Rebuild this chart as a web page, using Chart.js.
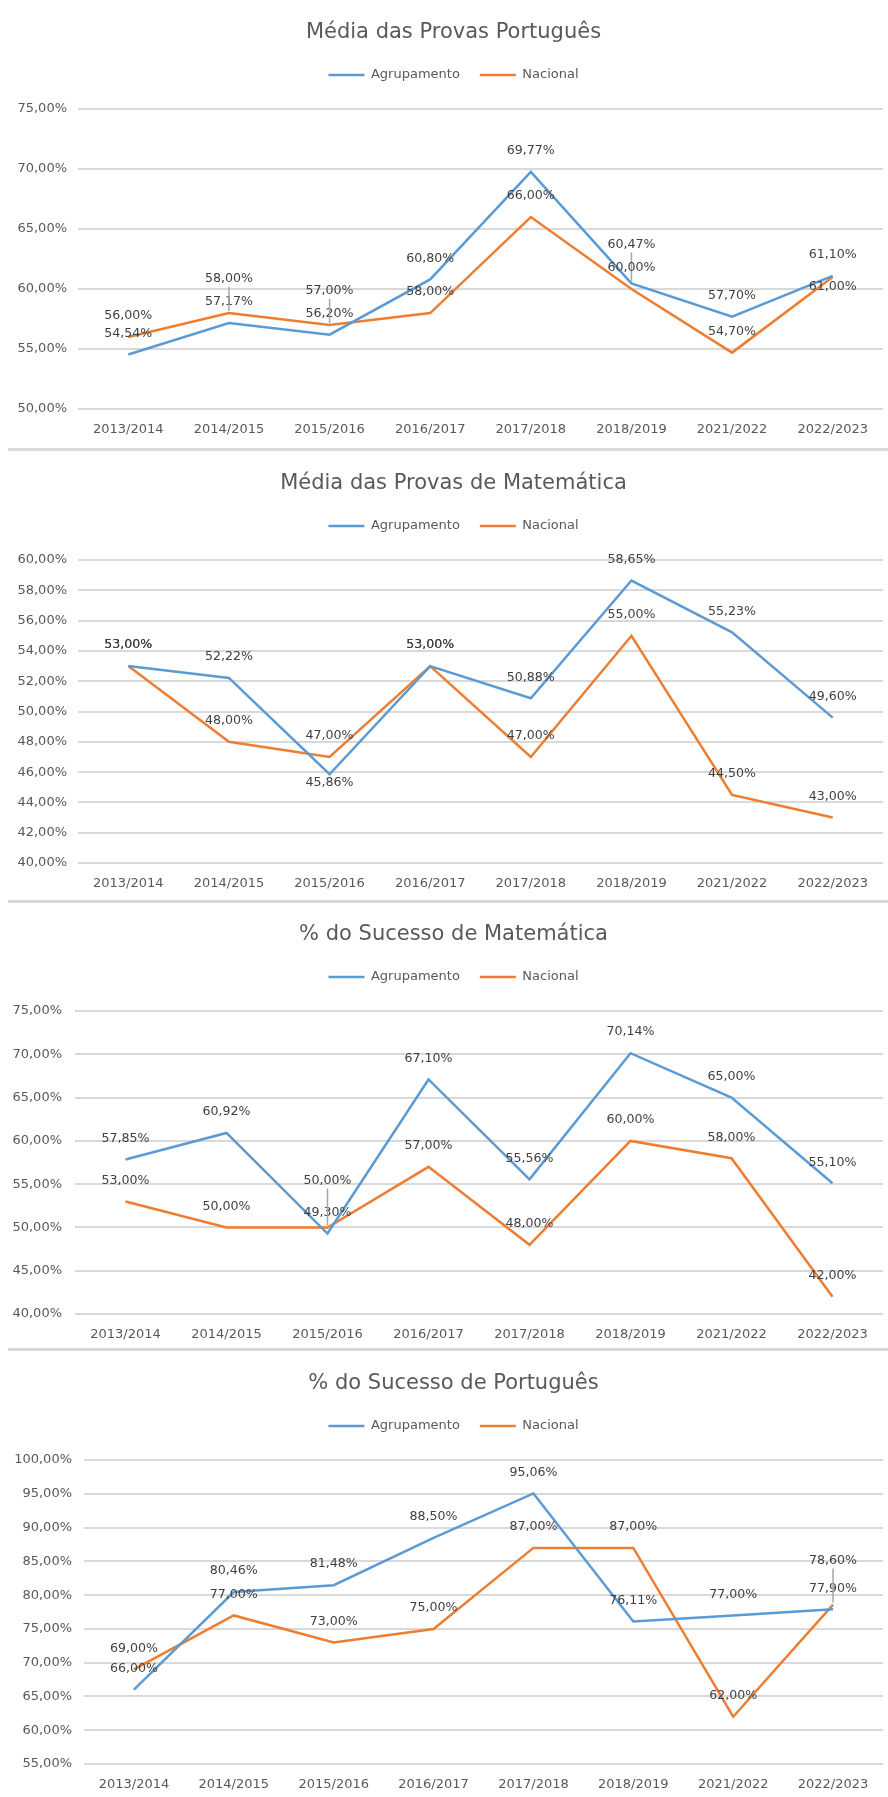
<!DOCTYPE html>
<html lang="pt">
<head>
<meta charset="utf-8">
<title>Resultados das provas</title>
<script src="https://cdn.jsdelivr.net/npm/chart.js@4.4.1/dist/chart.umd.min.js"></script>
<style>
  html, body { margin: 0; padding: 0; background: #fff; }
  body { width: 888px; height: 1797px; overflow: hidden; position: relative; }
  .bloco { position: absolute; left: 0; width: 888px; }
  .sep { position: absolute; left: 8px; width: 880px; height: 3px; background: #d9d9d9; }
  canvas { display: block; }
</style>
</head>
<body>
<div class="bloco" style="top:0px"><canvas id="graf1" width="888" height="447"></canvas></div>
<div class="sep" style="top:448px"></div>
<div class="bloco" style="top:451px"><canvas id="graf2" width="888" height="448"></canvas></div>
<div class="sep" style="top:900px"></div>
<div class="bloco" style="top:902px"><canvas id="graf3" width="888" height="446"></canvas></div>
<div class="sep" style="top:1348px"></div>
<div class="bloco" style="top:1351px"><canvas id="graf4" width="888" height="446"></canvas></div>

<script>
// anos letivos
const anos = ['2013/2014', '2014/2015', '2015/2016', '2016/2017', '2017/2018', '2018/2019', '2021/2022', '2022/2023'];
const series = ['Agrupamento', 'Nacional'];

// Média das Provas Português
const mediaPortAgrup = [54.54, 57.17, 56.20, 60.80, 69.77, 60.47, 57.70, 61.10];
const mediaPortNac = [56.00, 58.00, 57.00, 58.00, 66.00, 60.00, 54.70, 61.00];
const mediaPortEixo = [50, 75, 5]; // min, max, passo

// Média das Provas de Matemática
const mediaMatAgrup = [53.00, 52.22, 45.86, 53.00, 50.88, 58.65, 55.23, 49.60];
const mediaMatNac = [53.00, 48.00, 47.00, 53.00, 47.00, 55.00, 44.50, 43.00];
const mediaMatEixo = [40, 60, 2];

// % do Sucesso de Matemática
const sucMatAgrup = [57.85, 60.92, 49.30, 67.10, 55.56, 70.14, 65.00, 55.10];
const sucMatNac = [53.00, 50.00, 50.00, 57.00, 48.00, 60.00, 58.00, 42.00];
const sucMatEixo = [40, 75, 5];

// % do Sucesso de Português
const sucPortAgrup = [66.00, 80.46, 81.48, 88.50, 95.06, 76.11, 77.00, 77.90];
const sucPortNac = [69.00, 77.00, 73.00, 75.00, 87.00, 87.00, 62.00, 78.60];
const sucPortEixo = [55, 100, 5];

const AZUL = '#5b9bd5';
const LARANJA = '#ed7d31';
const CINZA_TXT = '#595959';

Chart.defaults.font.family = "'DejaVu Sans', sans-serif";
Chart.defaults.color = CINZA_TXT;

function pct(v) {
    return v.toFixed(2).replace('.', ',') + '%';
}

// espaço extra por baixo da legenda e título/legenda um pouco à direita (como no Excel)
const legendGap = {
    id: 'legendGap',
    beforeLayout: function (chart) {
        const lg = chart.legend;
        if (lg && !lg._gap) {
            const fit = lg.fit;
            lg.fit = function () {
                fit.call(this);
                this.height += 17.5;
            };
            lg._gap = true;
        }
    },
    afterLayout: function (chart) {
        [chart.titleBlock, chart.legend].forEach(function (b) {
            if (b) {
                b.left += 12;
                b.right += 12;
            }
        });
    }
};

// rótulos de dados por cima dos pontos
const rotulos = {
    id: 'rotulos',
    afterDatasetsDraw: function (chart, args, opts) {
        const ctx = chart.ctx;
        const desvios = opts.desvios || {};
        ctx.save();
        ctx.font = "12.6px 'DejaVu Sans', sans-serif";
        ctx.textAlign = 'center';
        ctx.textBaseline = 'middle';
        chart.data.datasets.forEach(function (ds, di) {
            const meta = chart.getDatasetMeta(di);
            meta.data.forEach(function (pt, i) {
                const d = desvios[di + '-' + i] !== undefined ? desvios[di + '-' + i] : 21;
                if (d > 30) {
                    ctx.strokeStyle = '#a6a6a6';
                    ctx.lineWidth = 1.5;
                    ctx.beginPath();
                    ctx.moveTo(pt.x, pt.y - d + 8);
                    ctx.lineTo(pt.x, pt.y - 2);
                    ctx.stroke();
                }
                ctx.fillStyle = '#404040';
                ctx.fillText(pct(ds.data[i]), pt.x, pt.y - d);
            });
        });
        ctx.restore();
    }
};

function fazGrafico(id, titulo, agrup, nac, eixo, cfg) {
    const ctx = document.getElementById(id).getContext('2d');
    return new Chart(ctx, {
        type: 'line',
        data: {
            labels: anos,
            datasets: [
                { label: series[0], data: agrup, borderColor: AZUL, backgroundColor: AZUL, borderWidth: 2.5, pointRadius: 0, tension: 0 },
                { label: series[1], data: nac, borderColor: LARANJA, backgroundColor: LARANJA, borderWidth: 2.5, pointRadius: 0, tension: 0 }
            ]
        },
        options: {
            responsive: false,
            animation: false,
            devicePixelRatio: 1,
            layout: { padding: { left: 0, right: 5, top: 0, bottom: cfg.baixo } },
            plugins: {
                title: {
                    display: true,
                    text: titulo,
                    color: CINZA_TXT,
                    font: { size: 21, weight: 'normal' },
                    padding: { top: 20.4, bottom: 3 }
                },
                legend: {
                    position: 'top',
                    labels: {
                        usePointStyle: true,
                        pointStyle: 'line',
                        pointStyleWidth: 36,
                        padding: 20,
                        color: CINZA_TXT,
                        font: { size: 13 }
                    }
                },
                tooltip: { enabled: false },
                rotulos: { desvios: cfg.desvios }
            },
            scales: {
                x: {
                    offset: true,
                    afterFit: function (scale) { scale.height = 30; },
                    grid: { display: false, drawTicks: false },
                    border: { display: false },
                    ticks: { padding: 13, font: { size: 13 }, color: CINZA_TXT, maxRotation: 0, autoSkip: false }
                },
                y: {
                    min: eixo[0],
                    max: eixo[1],
                    afterFit: function (scale) { scale.width = cfg.eixoLarg; },
                    grid: { color: '#d9d9d9', lineWidth: 2, drawTicks: false },
                    border: { display: false },
                    ticks: {
                        stepSize: eixo[2],
                        padding: cfg.tickPad,
                        font: { size: 13 },
                        color: CINZA_TXT,
                        callback: function (v) { return pct(v); }
                    }
                }
            }
        },
        plugins: [legendGap, rotulos]
    });
}

fazGrafico('graf1', 'Média das Provas Português', mediaPortAgrup, mediaPortNac, mediaPortEixo,
    { baixo: 8, eixoLarg: 78, tickPad: 11, desvios: { '1-1': 34, '1-2': 34, '0-5': 39, '1-7': -10 } });
fazGrafico('graf2', 'Média das Provas de Matemática', mediaMatAgrup, mediaMatNac, mediaMatEixo,
    { baixo: 6, eixoLarg: 78, tickPad: 11, desvios: { '0-2': -8 } });
fazGrafico('graf3', '% do Sucesso de Matemática', sucMatAgrup, sucMatNac, sucMatEixo,
    { baixo: 4, eixoLarg: 75, tickPad: 13, desvios: { '1-2': 47 } });
fazGrafico('graf4', '% do Sucesso de Português', sucPortAgrup, sucPortNac, sucPortEixo,
    { baixo: 3, eixoLarg: 84, tickPad: 12, desvios: { '1-7': 44 } });
</script>
</body>
</html>
